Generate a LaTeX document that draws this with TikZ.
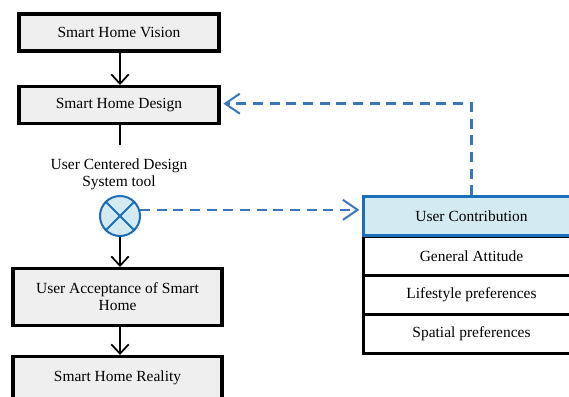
\documentclass[tikz,border=0pt]{standalone}
\usepackage{fontspec}
\setmainfont{Liberation Serif}
\usetikzlibrary{arrows.meta}
\definecolor{boxgray}{HTML}{EFEFEF}
\definecolor{lightblue}{HTML}{D4EAF1}
\definecolor{darkblue}{HTML}{1B6EB8}
\definecolor{dashblue}{HTML}{3A76BD}
\tikzset{
  mainbox/.style={draw=black, fill=boxgray, line width=2.6pt, minimum width=150pt, align=center, inner sep=0pt},
  rowbox/.style={draw=black, fill=white, line width=1.8pt, minimum width=162pt, minimum height=29pt, inner sep=0pt},
  ucbox/.style={draw=darkblue, fill=lightblue, line width=2.2pt, minimum width=162pt, minimum height=29pt, inner sep=0pt},
  blackarrow/.style={draw=black, line width=1.5pt, -{Straight Barb[length=7pt,width=13pt,line width=1.3pt]}},
  blackline/.style={draw=black, line width=1.5pt},
  bluedash/.style={draw=dashblue, line width=1.9pt, dash pattern=on 7.5pt off 5pt, -{Straight Barb[length=11pt,width=15pt,line width=1.5pt]}},
  lbl/.style={align=center, inner sep=0pt},
}
\begin{document}
\begin{tikzpicture}[x=0.75pt,y=-0.75pt, font=\fontsize{11.6}{12.8}\selectfont]
\useasboundingbox (0,0) rectangle (569,397);
\clip (0,0) rectangle (569,397);
\fill[white] (0,0) rectangle (569,397);
% left column
\node[mainbox, minimum height=28pt] (vision) at (119,32.5) {Smart Home Vision};
\node[mainbox, minimum height=27.4pt] (design) at (119,105) {Smart Home Design};
\coordinate (lend) at (120,145);
\node[lbl] (ucd) at (119,174) {User Centered Design\\System tool};
\node[draw=darkblue, fill=lightblue, line width=1.5pt, circle, minimum size=30pt, inner sep=0pt] (circ) at (120,216) {};
\draw[draw=darkblue, line width=1.5pt] (circ.45) -- (circ.225) (circ.135) -- (circ.315);
\node[mainbox, minimum width=157pt, minimum height=42.4pt] (accept) at (117.5,297) {User Acceptance of Smart\\Home};
\node[mainbox, minimum width=157pt, minimum height=32pt] (reality) at (117.5,378) {Smart Home Reality};
% right table
\node[rowbox] (ga) at (471.5,256) {General Attitude};
\node[rowbox] (lp) at (471.5,295) {Lifestyle preferences};
\node[rowbox] (sp) at (471.5,334) {Spatial preferences};
\node[ucbox] (uc) at (471.5,216) {User Contribution};
% connectors
\draw[blackarrow] (vision.south -| lend) -- (design.north -| lend);
\draw[blackline] (design.south -| lend) -- (lend);
\draw[blackarrow] (circ.south) -- (accept.north -| circ.south);
\draw[blackarrow] (accept.south -| lend) -- (reality.north -| lend);
\draw[bluedash] (circ.17) -- ([xshift=-2pt]circ.17 -| uc.west);
\draw[bluedash] (uc.north) |- ([xshift=2pt,yshift=1pt]design.east);
\end{tikzpicture}
\end{document}
